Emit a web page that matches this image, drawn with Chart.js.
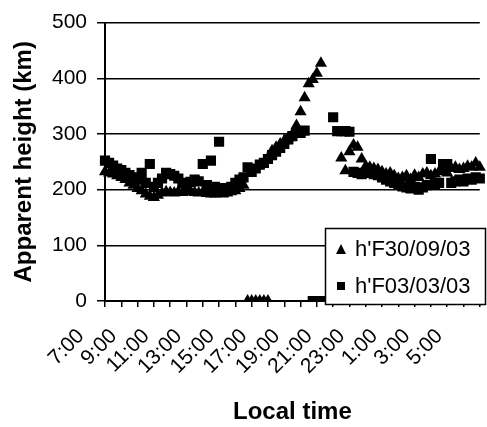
<!DOCTYPE html>
<html>
<head>
<meta charset="utf-8">
<script src="https://cdn.jsdelivr.net/npm/chart.js@4.4.1/dist/chart.umd.min.js"></script>
<style>
  body { margin: 0; background: #fff; }
  canvas { display: block; }
</style>
</head>
<body>
<canvas id="heightChart" width="487" height="427"></canvas>
<script>
// local time, one entry every 15 minutes, 7:00 -> 6:00 next morning
var times = [
  '7:00', '7:15', '7:30', '7:45',
  '8:00', '8:15', '8:30', '8:45',
  '9:00', '9:15', '9:30', '9:45',
  '10:00', '10:15', '10:30', '10:45',
  '11:00', '11:15', '11:30', '11:45',
  '12:00', '12:15', '12:30', '12:45',
  '13:00', '13:15', '13:30', '13:45',
  '14:00', '14:15', '14:30', '14:45',
  '15:00', '15:15', '15:30', '15:45',
  '16:00', '16:15', '16:30', '16:45',
  '17:00', '17:15', '17:30', '17:45',
  '18:00', '18:15', '18:30', '18:45',
  '19:00', '19:15', '19:30', '19:45',
  '20:00', '20:15', '20:30', '20:45',
  '21:00', '21:15', '21:30', '21:45',
  '22:00', '22:15', '22:30', '22:45',
  '23:00', '23:15', '23:30', '23:45',
  '0:00', '0:15', '0:30', '0:45',
  '1:00', '1:15', '1:30', '1:45',
  '2:00', '2:15', '2:30', '2:45',
  '3:00', '3:15', '3:30', '3:45',
  '4:00', '4:15', '4:30', '4:45',
  '5:00', '5:15', '5:30', '5:45',
  '6:00'
];

// h'F 30/09/03 (triangles), km
var hF300903 = [
  232, 230, 228, 225,
  222, 218, 212, 208,
  202, 198, 192, 188,
  186, 190, 194, 196,
  195, 194, 196, 195,
  196, 197, 195, 194,
  195, 193, 192, 192,
  193, 192, 194, 196,
  198, 202, 208, 0,
  0, 0, 0, 0,
  0, 270, 276, 282,
  288, 293, 300, 315,
  340, 365, 390, 398,
  409, 427, null, null,
  null, null, 257, 234,
  268, 280, 276, 255,
  242, 240, 238, 236,
  232, 228, 230, 225,
  220, 222, 225, 218,
  226, 222, 228, 230,
  225, 228, 232, 235,
  230, 238, 240, 236,
  238, 242, 240, 248,
  240
];

// h'F 03/03/03 (squares), km
var hF030303 = [
  252, 248, 243, 238,
  235, 230, 226, 222,
  218, 230, 212, 246,
  205, 212, 220, 230,
  228, 225, 220, 212,
  210, 214, 218, 215,
  246, 208, 252, 205,
  286, 203, 200, 205,
  212, 218, 222, 240,
  232, 238, 245, 248,
  255, 262, 268, 275,
  282, 290, 296, 302,
  302, 306, null, 0,
  0, 0, null, null,
  330, 305, 305, 305,
  304, 232, 230, 228,
  230, 232, 228, 226,
  222, 218, 215, 212,
  210, 206, 204, 202,
  205, 200, 204, 208,
  255, 210, 212, 246,
  246, 212, 215, 218,
  215, 220, 218, 222,
  220
];

var yTicks = [0, 100, 200, 300, 400, 500];

var fontFamily = "'Liberation Sans', Arial, sans-serif";

// legend box drawn inside the plot, like the original
var boxLegend = {
  id: 'boxLegend',
  afterDraw: function (chart) {
    var ctx = chart.ctx;
    ctx.save();
    ctx.fillStyle = '#fff';
    ctx.fillRect(325, 228, 161, 77);
    ctx.strokeStyle = '#000';
    ctx.lineWidth = 1.5;
    ctx.strokeRect(325.5, 228.5, 160, 76);
    ctx.fillStyle = '#000';
    ctx.font = '22px ' + fontFamily;
    ctx.textBaseline = 'alphabetic';
    ctx.textAlign = 'left';
    chart.data.datasets.forEach(function (ds, i) {
      var mx = 341, my = 250 + i * 36;
      ctx.beginPath();
      if (ds.pointStyle === 'triangle') {
        ctx.moveTo(mx, my - 6);
        ctx.lineTo(mx + 5, my + 4);
        ctx.lineTo(mx - 5, my + 4);
      } else {
        ctx.rect(mx - 4, my - 4, 8, 8);
      }
      ctx.closePath();
      ctx.fill();
      ctx.fillText(ds.label, 355, 256 + i * 37);
    });
    ctx.restore();
  }
};

var ctx = document.getElementById('heightChart').getContext('2d');
var heightChart = new Chart(ctx, {
  type: 'line',
  data: {
    labels: times,
    datasets: [{
      label: "h'F30/09/03",
      data: hF300903,
      showLine: false,
      pointStyle: 'triangle',
      pointRadius: 7,
      pointBackgroundColor: '#000',
      pointBorderColor: '#000',
      pointBorderWidth: 0
    }, {
      label: "h'F03/03/03",
      data: hF030303,
      showLine: false,
      pointStyle: 'rect',
      pointRadius: 7.2,
      pointBackgroundColor: '#000',
      pointBorderColor: '#000',
      pointBorderWidth: 0
    }]
  },
  options: {
    responsive: false,
    animation: false,
    layout: { padding: { top: 21, right: 2, left: 0, bottom: 0 } },
    plugins: {
      legend: { display: false },
      tooltip: { enabled: false }
    },
    scales: {
      x: {
        type: 'category',
        offset: false,
        afterFit: function (scale) {
          scale.height = 126;
          scale.paddingLeft = 0;
          scale.paddingRight = 0;
        },
        grid: {
          drawOnChartArea: false,
          color: '#000',
          lineWidth: 1.5,
          tickLength: 6
        },
        border: { color: '#000', width: 2 },
        ticks: {
          autoSkip: false,
          minRotation: 45,
          maxRotation: 45,
          labelOffset: -24,
          padding: 17,
          color: '#000',
          font: { family: fontFamily, size: 21 },
          callback: function (value, index) {
            if (index % 8 === 0) return this.getLabelForValue(value);
            if (index % 4 === 0) return '';
            return null;
          }
        },
        title: {
          display: true,
          text: 'Local time',
          color: '#000',
          font: { family: fontFamily, size: 24, weight: 'bold' },
          padding: { top: 0, bottom: 0 }
        }
      },
      y: {
        min: yTicks[0],
        max: yTicks[yTicks.length - 1],
        afterFit: function (scale) { scale.width = 105; },
        afterBuildTicks: function (scale) {
          scale.ticks = yTicks.map(function (v) { return { value: v }; });
        },
        grid: {
          color: '#000',
          lineWidth: 1.5,
          tickLength: 8
        },
        border: { color: '#000', width: 2 },
        ticks: {
          padding: 10,
          color: '#000',
          font: { family: fontFamily, size: 21 }
        },
        title: {
          display: true,
          text: 'Apparent height (km)',
          color: '#000',
          font: { family: fontFamily, size: 24, weight: 'bold' },
          padding: { top: 10, bottom: 0 }
        }
      }
    }
  },
  plugins: [boxLegend]
});
</script>
</body>
</html>
